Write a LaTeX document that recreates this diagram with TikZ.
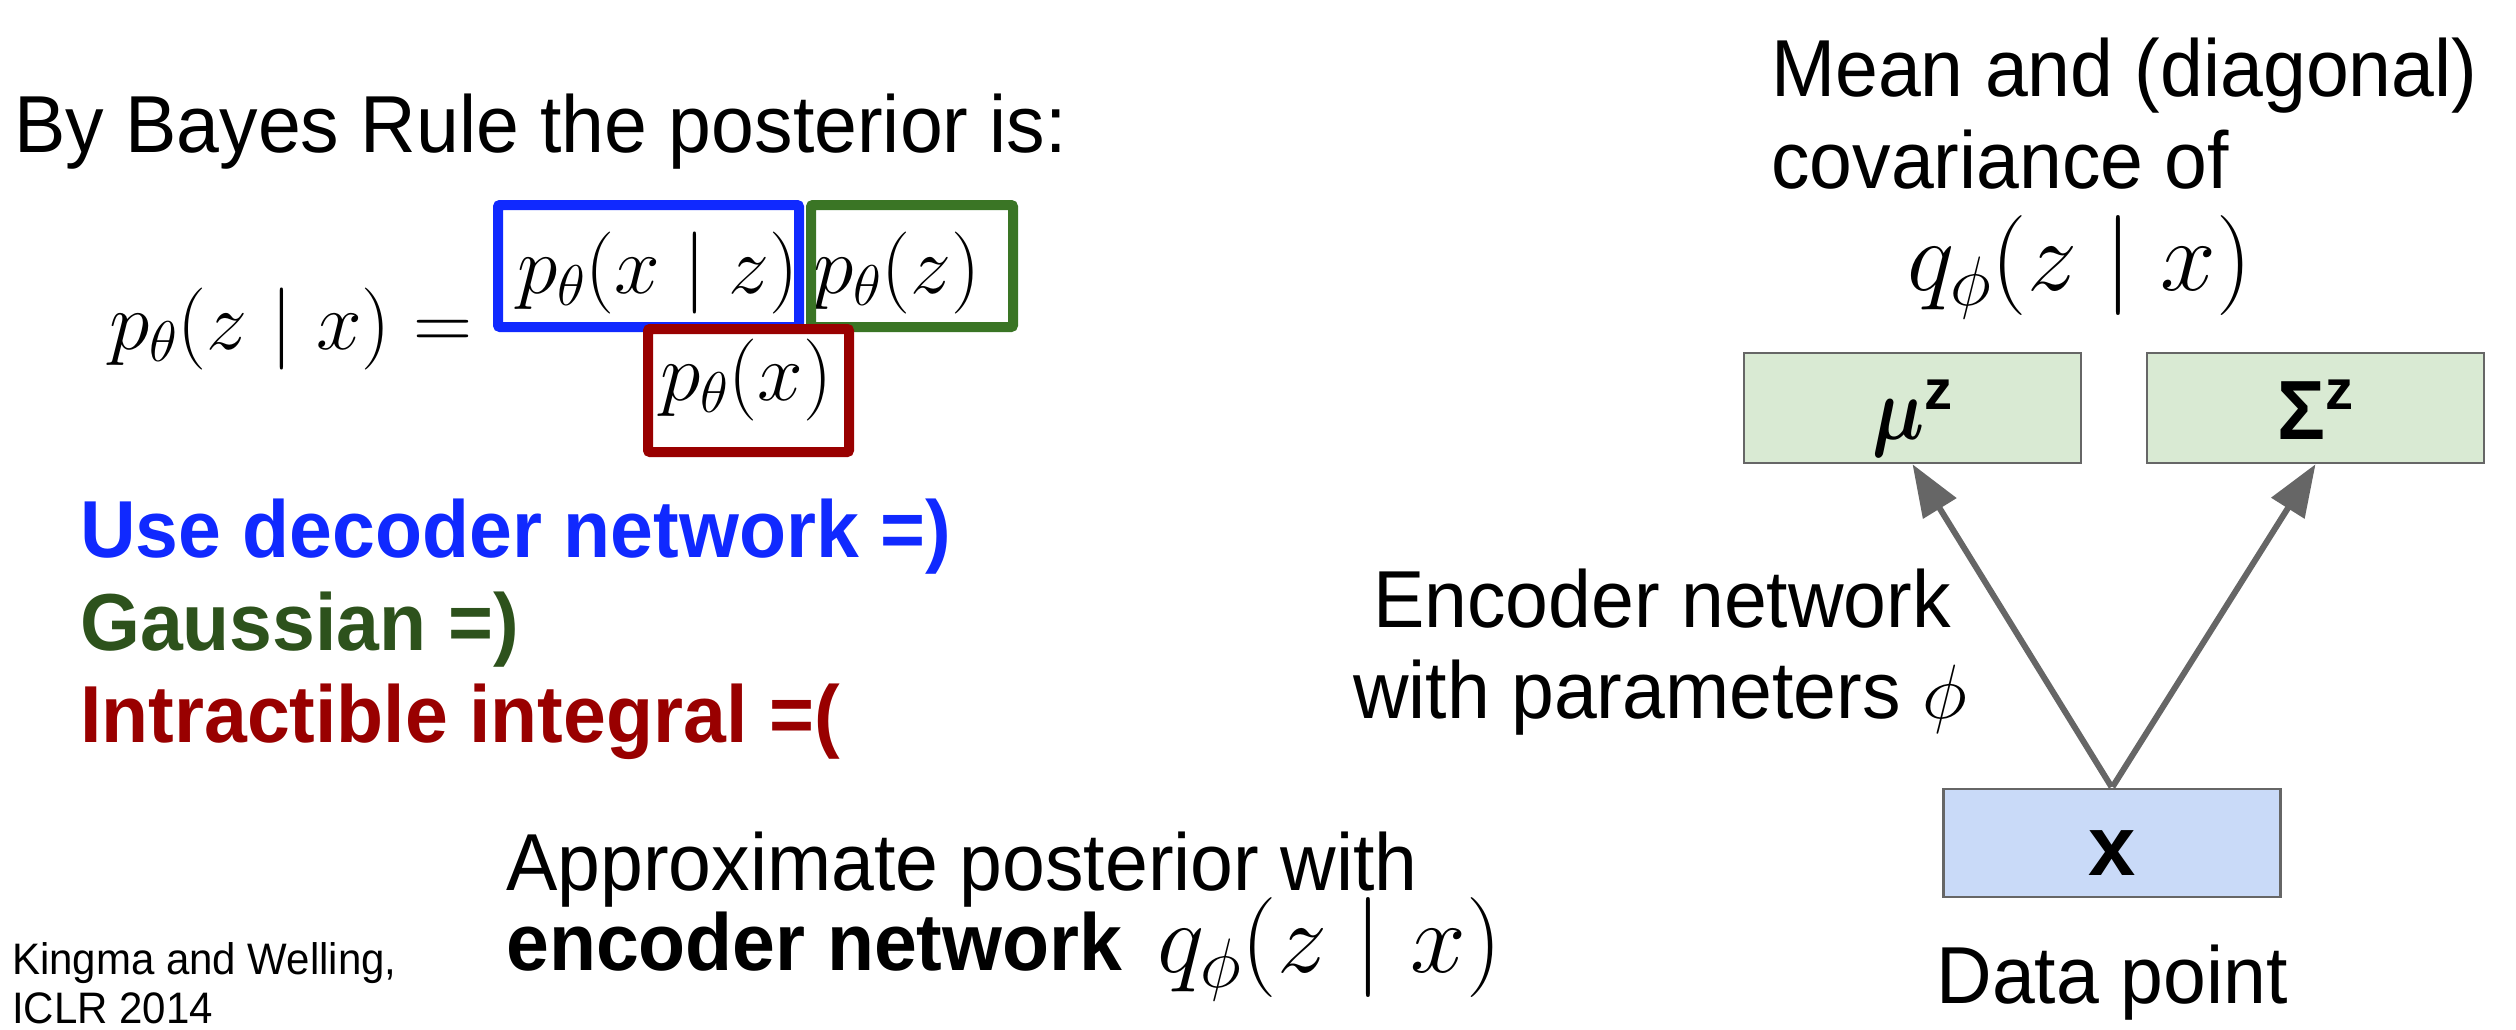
\RequirePackage{fix-cm}
\documentclass[tikz,border=0pt]{standalone}
\usepackage{amsmath}
\usepackage{bm}
\usepackage{graphicx}
\usepackage[no-math]{fontspec}
\setmainfont{Liberation Sans}
\usetikzlibrary{arrows.meta}

\definecolor{decblue}{HTML}{1029FF}
\definecolor{gaussgreen}{HTML}{2D521C}
\definecolor{gaussbox}{HTML}{3A7525}
\definecolor{intred}{HTML}{990000}
\definecolor{edgegray}{HTML}{666666}
\definecolor{meanfill}{HTML}{D9EAD3}
\definecolor{datafill}{HTML}{C9DAF8}

% slightly tall lettering for the sans-serif lines
\newcommand{\tl}[1]{\scalebox{1}[1.05]{#1}}

\tikzset{
  txt/.style={inner sep=0pt, anchor=base west, font=\fontsize{77}{92}\selectfont},
  boldtxt/.style={txt, font=\fontsize{77}{92}\selectfont\bfseries},
  small/.style={inner sep=0pt, anchor=base west, font=\fontsize{42}{49}\selectfont},
  eq/.style={inner sep=0pt, anchor=base west, font=\fontsize{82}{98}\selectfont},
  bigeq/.style={inner sep=0pt, anchor=base west, font=\fontsize{100}{120}\selectfont},
  termbox/.style={line width=10pt, rounded corners=2pt},
  netbox/.style={draw=edgegray, line width=2.5pt, inner sep=0pt,
    minimum width=337pt, font=\fontsize{80}{96}\selectfont\bfseries},
  arr/.style={draw=edgegray, line width=6pt,
    -{Triangle[length=52pt,width=38pt]}, shorten <=1pt},
}

\begin{document}
\begin{tikzpicture}[x=1pt,y=-1pt]
\useasboundingbox (0,0) rectangle (2516,1030);

% Bayes rule for the posterior
\node[txt] (bayes) at (14,153) {\tl{By Bayes Rule the posterior is:}};
\node[eq] (lhs) at (109,349) {$p_\theta(z\mid x) =$};
\node[eq] (lik) at (517,293) {$p_\theta(x\mid z)$};
\node[eq] (prior) at (813,293) {$p_\theta(z)$};
\node[eq] (evid) at (660,400) {$p_\theta(x)$};

% coloured frames around the three terms
\draw[termbox, draw=decblue] (498,205) rectangle (799,327);
\draw[termbox, draw=gaussbox] (811,205) rectangle (1013,327);
\draw[termbox, draw=intred] (648,329) rectangle (849,452);

% comments on each term
\node[boldtxt, text=decblue] (dec) at (80,557) {\tl{Use decoder network =)}};
\node[boldtxt, text=gaussgreen] (gauss) at (80,650) {\tl{Gaussian =)}};
\node[boldtxt, text=intred] (intr) at (80,742) {\tl{Intractible integral =(}};

% approximate posterior
\node[txt] (approx) at (506,890) {\tl{Approximate posterior with}};
\node[boldtxt] (encnet) at (506,970) {\tl{encoder network}};
\node[bigeq] (qpost) at (1157,972) {$q_\phi(z\mid x)$};

% reference
\node[small] (ref1) at (12,974) {\tl{Kingma and Welling,}};
\node[small] (ref2) at (12,1023) {\tl{ICLR 2014}};

% encoder network diagram
\node[txt] (mean1) at (1771,97) {\tl{Mean and (diagonal)}};
\node[txt] (mean2) at (1771,188) {\tl{covariance of}};
\node[bigeq] (qtop) at (1907,290) {$q_\phi(z\mid x)$};

\node[netbox, fill=meanfill, minimum height=110pt, text height=70pt, text depth=8pt]
  (mu) at (1912.5,408) {\scalebox{0.92}[1.12]{$\bm{\mu}$}$^{\textbf{z}}$};
\node[netbox, fill=meanfill, minimum height=110pt, text height=70pt, text depth=8pt]
  (sig) at (2315.5,408) {\tl{Σ}$^{\textbf{z}}$};
\node[netbox, fill=datafill, minimum height=108pt, text height=70pt, text depth=5pt,
  font=\fontsize{85}{100}\selectfont\bfseries]
  (xin) at (2112,843) {x};

\draw[arr] (xin.north) -- (mu.south);
\draw[arr] (xin.north) -- (sig.south);

\node[txt, anchor=base] (enc1) at (1662,627) {\tl{Encoder network}};
\node[txt, anchor=base] (enc2) at (1660,718) {\tl{with parameters} $\phi$};

\node[txt, anchor=base] (data) at (2112,1003) {\tl{Data point}};
\end{tikzpicture}
\end{document}
